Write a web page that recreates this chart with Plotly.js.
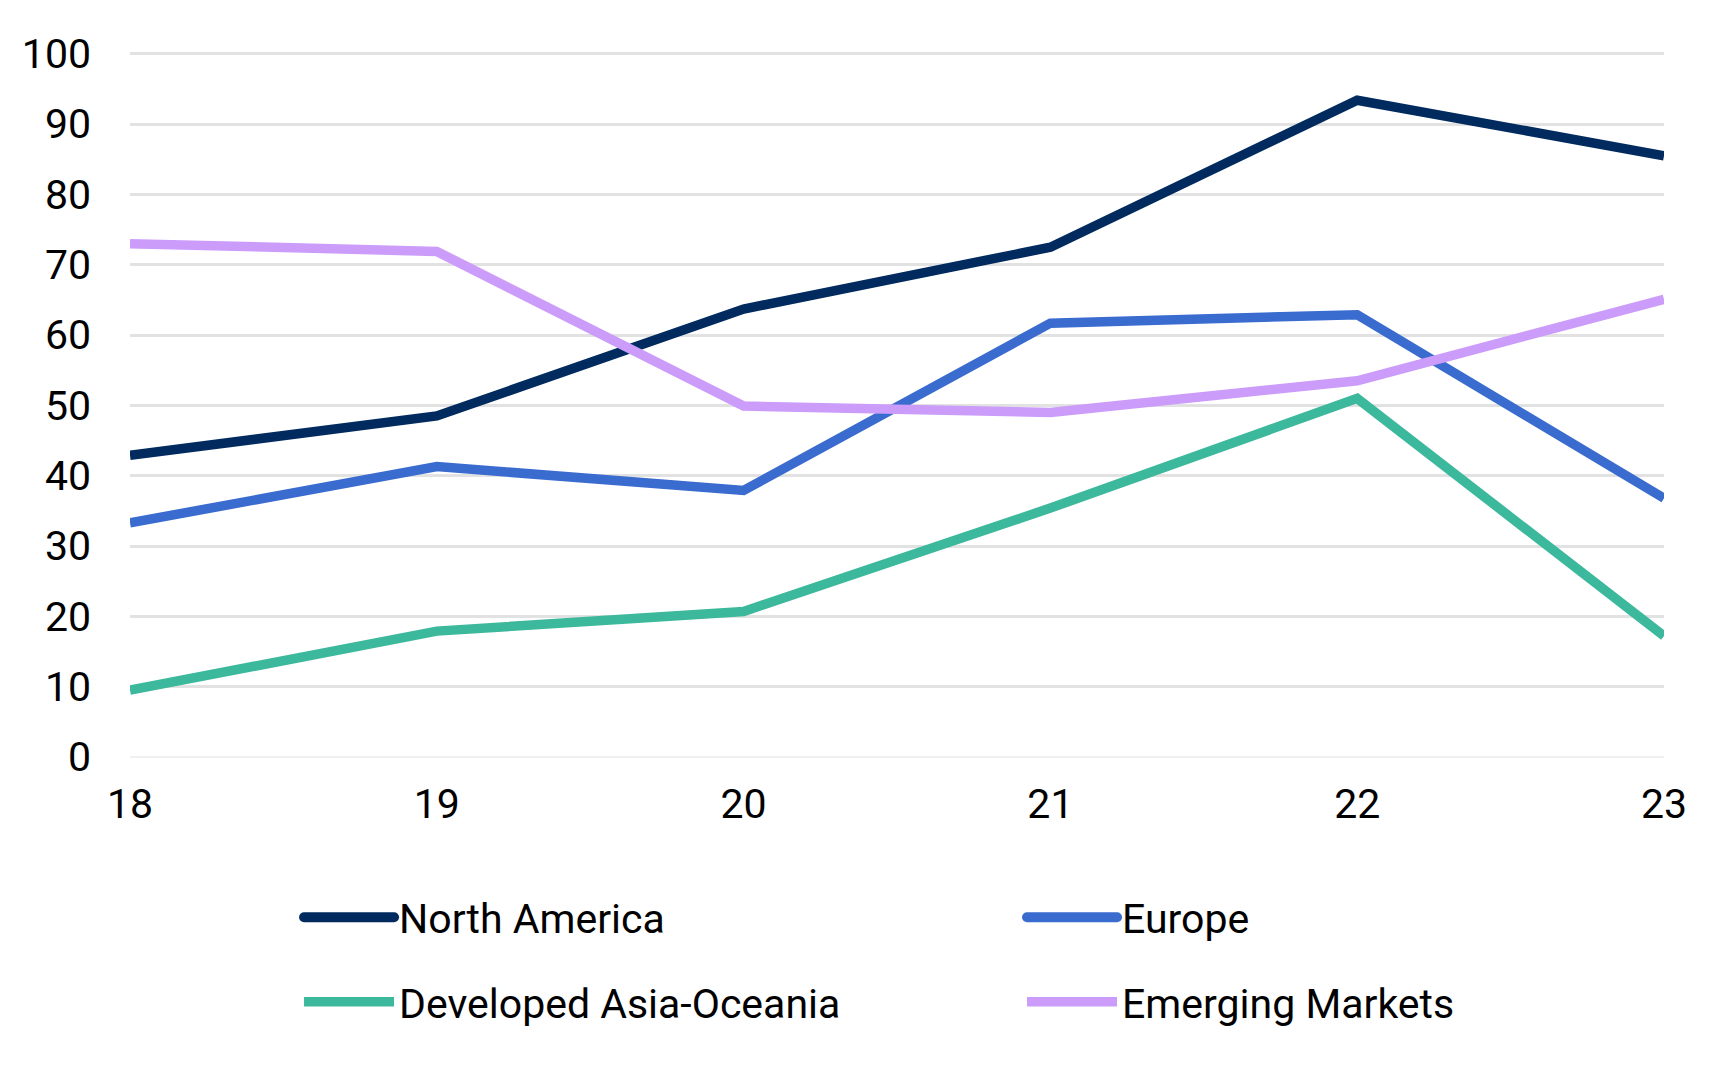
<!DOCTYPE html>
<html>
<head>
<meta charset="utf-8">
<script src="https://cdn.plot.ly/plotly-3.0.1.min.js"></script>
<style>
  html, body { margin: 0; padding: 0; background: #fff; }
  #main { width: 1722px; height: 1066px; }
  .legend .legendlines path { stroke-linecap: round; stroke-width: 10px !important; }
</style>
</head>
<body>
<div id="main"></div>
<script>
const years = [18, 19, 20, 21, 22, 23]
const northAmerica = [42.9, 48.5, 63.7, 72.5, 93.4, 85.5]
const europe = [33.3, 41.3, 37.9, 61.7, 62.9, 36.8]
const devAsiaOceania = [9.5, 17.9, 20.7, 35.4, 51.0, 17.2]
const emergingMarkets = [73.0, 71.9, 49.9, 49.0, 53.5, 65.1]
const yTicks = [0, 10, 20, 30, 40, 50, 60, 70, 80, 90, 100]

const line = (name, ys, color, legend, legendwidth) => ({
  x: years,
  y: ys,
  type: 'scatter',
  mode: 'lines',
  name: name,
  legend: legend,
  legendwidth: legendwidth,
  line: { color: color, width: 9.5 },
  hoverinfo: 'skip',
})

const plotData = [
  line('North America', northAmerica, '#012a5e', 'legend', 618),
  line('Europe', europe, '#3a6bcf', 'legend', 260),
  line('Developed Asia-Oceania', devAsiaOceania, '#3cb89c', 'legend2', 618),
  line('Emerging Markets', emergingMarkets, '#cb9cfa', 'legend2', 380),
]

const legendBase = {
  orientation: 'h',
  xanchor: 'left',
  yanchor: 'middle',
  x: 0.1102,
  itemwidth: 90,
  font: { family: 'Roboto, sans-serif', size: 41, color: '#000' },
  bgcolor: 'rgba(0,0,0,0)',
  itemclick: false,
  itemdoubleclick: false,
}

Plotly.newPlot('main', plotData, {
  width: 1722,
  height: 1066,
  margin: { l: 129.5, r: 58, t: 51.2, b: 309 },
  paper_bgcolor: '#fff',
  plot_bgcolor: '#fff',
  font: { family: 'Roboto, sans-serif', size: 41, color: '#000' },
  xaxis: {
    range: [18, 23],
    tickvals: years,
    ticktext: years.map(String),
    showgrid: false,
    zeroline: false,
    showline: false,
    ticks: '',
    ticklabelstandoff: 19,
    fixedrange: true,
  },
  yaxis: {
    range: [0, 100.4],
    tickvals: yTicks,
    showgrid: true,
    gridcolor: '#e2e2e2',
    gridwidth: 3,
    zeroline: true,
    zerolinecolor: '#f0f0f0',
    zerolinewidth: 1.5,
    showline: false,
    ticks: '',
    ticklabelstandoff: 38,
    fixedrange: true,
  },
  legend: Object.assign({}, legendBase, { y: -0.2276 }),
  legend2: Object.assign({}, legendBase, { y: -0.347 }),
  showlegend: true,
}, {
  displayModeBar: false,
  staticPlot: true,
})
</script>
</body>
</html>
